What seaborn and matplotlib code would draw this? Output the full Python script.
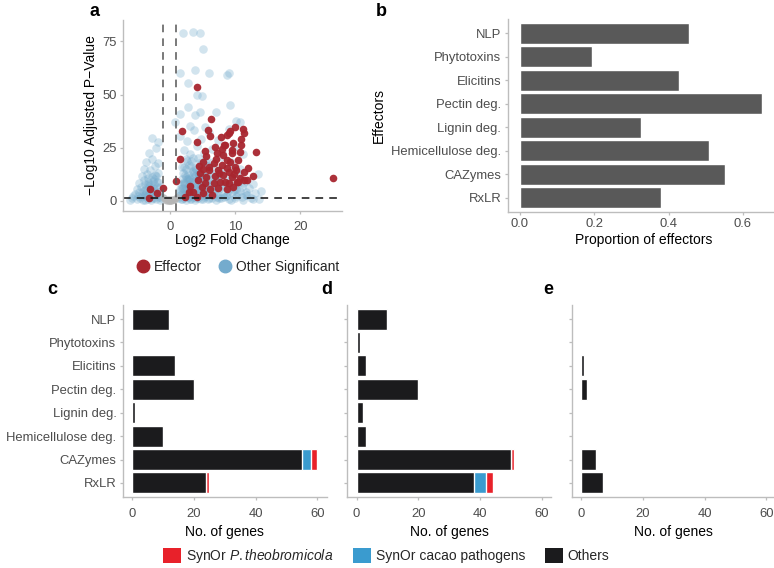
import matplotlib
matplotlib.use("Agg")
import matplotlib.pyplot as plt
import numpy as np
import pandas as pd
import seaborn as sns
from matplotlib.lines import Line2D
from matplotlib.patches import Patch

# ---------------- data ----------------
categories = ["NLP", "Phytotoxins", "Elicitins", "Pectin deg.", "Lignin deg.",
              "Hemicellulose deg.", "CAZymes", "RxLR"]
proportion = [0.456, 0.195, 0.429, 0.651, 0.325, 0.508, 0.553, 0.379]

c_others = [12, 0, 14, 20, 1, 10, 55, 24]
c_cacao = [0, 0, 0, 0, 0, 0, 3, 0]
c_theo = [0, 0, 0, 0, 0, 0, 2, 1]
d_others = [10, 1, 3, 20, 2, 3, 50, 38]
d_cacao = [0, 0, 0, 0, 0, 0, 0, 4]
d_theo = [0, 0, 0, 0, 0, 0, 1, 2]
e_others = [0, 0, 1, 2, 0, 0, 5, 7]
e_cacao = [0, 0, 0, 0, 0, 0, 0, 0]
e_theo = [0, 0, 0, 0, 0, 0, 0, 0]

volcano_xticks = [0, 10, 20]
volcano_yticks = [0, 25, 50, 75]
genes_ticks = [0, 20, 40, 60]
prop_ticks = [0.0, 0.2, 0.4, 0.6]

effector_x = [1.8, 5.9, 4.1, 1.5, 6.15, 7.8, 9.0, 10.0, 10.9, 11.3, 6.9, 8.5, 9.7,
              5.4, 5.6, 7.2, 8.2, 9.5, 5.1, 6.7, 7.95, 9.2, 10.5, 6.05, 7.4, 8.7,
              10.0, 11.3, 4.6, 5.6, 6.9, 8.2, 9.5, 10.8, 4.35, 5.4, 6.7, 7.7, 9.0,
              10.3, 3.1, 4.9, 6.15, 7.4, 8.7, 3.6, 5.1, -3.1, -2.05, -1.1, -3.2,
              2.3, 4.1, 11.2, 9.2, 8.8, 10.9, 8.3, 10.7, 13.2, 9.6, 8.7, 10.15,
              9.0, 12.7, 11.4, 8.5, 10.5, 9.7, 25.0, 4.1, 6.3, 1.0, 7.0, 6.0,
              5.0, 7.6, 8.0, 9.9, 6.4, 4.4, 3.0, 12.0, 11.8]
effector_y = [32.9, 33.3, 27.8, 19.7, 30.5, 30.2, 31.8, 34.9, 29.0, 31.8, 25.5,
              26.3, 27.1, 23.6, 21.1, 22.4, 21.6, 22.4, 18.5, 17.7, 16.9, 18.5,
              19.2, 14.6, 14.6, 15.4, 16.1, 13.8, 13.0, 11.4, 11.7, 12.2, 11.4,
              10.7, 9.9, 8.6, 8.3, 9.1, 8.3, 9.1, 7.0, 6.4, 5.5, 6.0, 5.5, 4.4,
              3.6, 5.5, 3.9, 6.0, 1.3, 2.0, 1.7, 33.7, 33.0, 31.0, 26.3, 26.3,
              23.1, 22.9, 23.9, 19.2, 14.6, 13.8, 11.7, 9.9, 9.1, 9.1, 6.4, 10.9,
              53.4, 38.5, 9.4, 19.8, 16.0, 15.2, 13.0, 24.5, 12.5, 3.0, 16.5,
              4.0, 15.5, 10.0]

other_x = [-5.8, -5.1, -4.6, -4.1, -3.7, -3.3, -2.9, -2.5, -2.1, -1.7, -1.3,
           1.3, 1.7, 2.1, 2.5, 2.9, 3.3, 3.8, 4.3, 4.8, 5.3, 5.9, 6.4, 7.0, 7.6,
           8.3, 9.1, 10.0, 11.2, 12.4,
           -5.4, -4.8, -4.2, -3.7, -3.1, -2.6, -2.1, -1.6,
           1.6, 2.0, 2.4, 2.8, 3.3, 3.7, 4.2, 4.6, 5.1, 5.6, 6.2, 6.8, 7.4, 8.1,
           8.8, 9.6, 10.5, 11.6, 13.0,
           -5.0, -4.4, -3.8, -3.2, -2.6, -2.0,
           1.8, 2.3, 2.8, 3.3, 3.8, 4.4, 5.0, 5.6, 6.2, 6.9, 7.6, 8.4, 9.2, 10.1,
           11.0, 12.1,
           -4.7, -4.0, -3.3, -2.5, -1.8,
           2.1, 2.7, 3.3, 3.9, 4.5, 5.2, 5.9, 6.6, 7.4, 8.3, 9.3, 10.4, 11.6,
           -4.3, -3.5, -2.7, -1.9,
           2.3, 3.0, 3.7, 4.5, 5.3, 6.1, 7.0, 8.0, 9.1, 10.4,
           -4.0, -3.1, -2.3,
           2.4, 3.2, 4.0, 4.9, 5.8, 6.8, 7.9, 9.2, 10.8,
           -3.6, -2.7, -1.9,
           2.6, 3.5, 4.5, 5.5, 6.6, 7.8, 9.3,
           -3.2, -2.2,
           2.1, 3.1, 4.2, 5.3, 6.5, 8.0, 9.8, 11.2,
           -2.8, -1.8,
           1.6, 2.6, 3.7, 4.8, 6.0, 7.3, 9.0, 10.7, 3.1, 5.4,
           2.05, 3.5, 4.6, 5.1, 1.5, 3.8, 6.05, 8.7, 9.1, 9.2, 2.8, 4.2, 4.9,
           2.8, 3.8, 4.6, 7.0, 10.2, 0.8, 1.6,
           -4.9, -3.9, -2.8, -1.5, 1.5, 2.2, 3.0, 3.6, 4.1, 4.7, 5.4, 2.6, 3.4,
           4.0, 1.9, 2.9, 3.5, 4.3, -3.4, -2.3, 12.8, 14.0, 13.5,
           1.4, 1.9, 2.3, 2.7, 3.1, 3.6, 4.0, 4.5, 5.0, 5.5, 6.0, 6.6, 7.2, 7.9,
           1.5, 2.0, 2.6, 3.2, 3.8, 4.4, 5.0, 5.7, 6.4, 7.1,
           1.7, 2.2, 2.9, 3.5, 4.1, 4.8, 5.5, 6.3, 7.0,
           1.9, 2.5, 3.1, 3.8, 4.5, 5.3, 6.1, 7.0,
           2.0, 2.8, 3.6, 4.4, 5.3, 6.3,
           2.2, 3.0, 3.9, 4.8, 5.8,
           2.4, 3.3, 4.3, 5.4,
           -4.5, -3.9, -3.4, -2.8, -2.3, -1.6,
           -4.2, -3.6, -3.0, -2.4, -1.9,
           -3.8, -3.1, -2.5, -2.0,
           -3.3, -2.6, -2.1, -6.2, -5.6,
           8.6, 9.4, 10.2, 11.0, 11.9, 12.8,
           8.9, 9.8, 10.7, 11.6,
           8.2, 9.1, 10.0, 11.2, 13.6]
other_y = [1.2, 0.8, 1.6, 0.6, 1.9, 1.1, 0.7, 1.5, 0.9, 1.8, 1.4,
           1.6, 0.9, 1.3, 0.7, 1.9, 1.1, 0.6, 1.5, 0.9, 1.7, 0.8, 1.4, 0.6, 1.2,
           1.8, 0.9, 1.3, 0.7, 1.5,
           3.1, 4.2, 2.7, 3.8, 2.9, 4.4, 3.4, 2.6,
           3.0, 4.1, 2.8, 3.6, 4.4, 2.7, 3.5, 4.2, 2.9, 3.9, 2.6, 4.3, 3.2, 3.8,
           2.8, 4.0, 3.3, 2.9, 3.7,
           5.6, 6.8, 5.2, 7.1, 5.9, 6.4,
           6.1, 5.3, 7.2, 5.8, 6.6, 5.1, 7.0, 6.0, 5.4, 6.9, 5.7, 7.3, 6.2, 5.5,
           6.8, 5.9,
           8.6, 9.9, 8.2, 10.3, 9.0,
           8.4, 10.1, 8.9, 9.6, 8.1, 10.4, 9.2, 8.5, 10.0, 8.8, 9.7, 8.3, 9.5,
           11.8, 12.9, 11.2, 13.3,
           12.1, 11.0, 13.2, 12.4, 11.5, 13.0, 11.9, 12.6, 11.3, 12.8,
           15.2, 14.4, 16.3,
           14.8, 16.5, 15.1, 14.2, 16.2, 15.4, 14.6, 16.0, 15.0,
           18.3, 19.8, 17.9,
           18.9, 20.4, 17.8, 19.6, 18.4, 20.6, 18.1,
           22.7, 24.9,
           23.8, 21.9, 25.6, 22.6, 24.4, 23.1, 25.2, 22.0,
           29.6, 27.8,
           30.4, 28.3, 33.5, 29.1, 31.7, 28.7, 33.9, 37.2, 35.4, 34.6,
           79.0, 79.5, 79.0, 71.2, 60.0, 61.5, 60.0, 59.2, 60.2, 45.0, 55.3,
           50.0, 49.5, 44.0, 40.3, 42.0, 42.0, 37.5, 37.0, 41.0,
           2.2, 3.0, 5.0, 6.5, 5.5, 7.8, 9.9, 2.0, 5.5, 7.0, 3.0, 10.5, 8.0,
           12.0, 16.0, 6.8, 14.0, 10.8, 9.0, 12.0, 8.0, 4.5, 12.5,
           2.3, 1.1, 3.5, 2.0, 0.8, 2.6, 1.4, 3.1, 0.9, 2.4, 1.6, 3.0, 2.1, 1.3,
           4.8, 6.0, 5.1, 6.4, 4.7, 5.9, 4.6, 6.3, 5.0, 6.1,
           7.9, 8.8, 7.6, 9.3, 8.2, 7.5, 9.0, 7.8, 8.6,
           10.4, 11.3, 10.1, 11.8, 10.6, 11.6, 10.2, 11.1,
           13.3, 12.5, 13.8, 12.9, 13.6, 12.2,
           15.8, 16.9, 15.5, 17.2, 16.4,
           19.5, 18.7, 20.2, 19.0,
           2.4, 0.5, 2.6, 1.3, 2.9, 0.6,
           4.7, 6.1, 4.9, 5.6, 4.4,
           8.0, 7.4, 7.9, 8.9,
           10.8, 9.6, 11.9, 0.4, 2.2,
           2.2, 0.5, 2.4, 1.9, 2.6, 1.0,
           4.9, 5.3, 4.6, 4.4,
           7.2, 7.7, 7.0, 8.5, 0.9]

ns_x = [-0.9, -0.6, -0.3, 0.0, 0.3, 0.6, 0.9, -0.7, -0.4, -0.1, 0.2, 0.5, 0.8,
        -0.5, 0.1, 0.4, -1.1, 1.1, -0.2, 0.0]
ns_y = [1.2, 0.6, 0.3, 0.1, 0.3, 0.7, 1.3, 0.4, 0.2, 0.05, 0.15, 0.4, 0.9,
        1.0, 0.6, 1.1, 1.8, 1.7, 0.5, 0.8]

# ---------------- style ----------------
sns.set_theme(style="white")
plt.rcParams['font.family'] = ['Liberation Sans', 'DejaVu Sans']
plt.rcParams['mathtext.fontset'] = 'custom'
plt.rcParams['mathtext.rm'] = 'Liberation Sans'
plt.rcParams['mathtext.it'] = 'Liberation Sans:italic'

SPINE = "#bdbdbd"
TICKC = "#4d4d4d"
RED = "#e8212a"
BLUE = "#3a9bcf"
BLACK = "#1b1b1d"
GREY_BAR = "#595959"
EFF = "#a8262f"
OTH = "#74abcd"
TICK_FS = 9.4
LAB_FS = 10

W, H = 774, 568
fig = plt.figure(figsize=(W / 100, H / 100), dpi=100)


def px_axes(left, top, right, bottom):
    return fig.add_axes([left / W, 1 - bottom / H, (right - left) / W, (bottom - top) / H])


def style(ax, xpad=2):
    for s in ["top", "right"]:
        ax.spines[s].set_visible(False)
    for s in ["left", "bottom"]:
        ax.spines[s].set_color(SPINE)
        ax.spines[s].set_linewidth(1.0)
    ax.tick_params(axis="both", which="both", length=2.5, width=0.9, color=SPINE,
                   labelcolor=TICKC, labelsize=TICK_FS, pad=2, direction="out",
                   left=True, bottom=True)
    ax.tick_params(axis="x", pad=xpad)
    ax.grid(False)


# ---------------- panel a ----------------
axa = px_axes(123, 20, 342, 211)
dfo = pd.DataFrame({"x": other_x, "y": other_y})
dfn = pd.DataFrame({"x": ns_x, "y": ns_y})
dfe = pd.DataFrame({"x": effector_x, "y": effector_y})
sns.scatterplot(data=dfo, x="x", y="y", ax=axa, color=OTH, alpha=0.32, s=38,
                linewidth=0, legend=False)
sns.scatterplot(data=dfn, x="x", y="y", ax=axa, color="#b5b5b5", alpha=0.5, s=26,
                linewidth=0, legend=False)
sns.scatterplot(data=dfe, x="x", y="y", ax=axa, color=EFF, alpha=0.95, s=30,
                linewidth=0, legend=False)
axa.axvline(-1, color="#555555", lw=1.1, ls=(0, (5, 4)))
axa.axvline(1, color="#555555", lw=1.1, ls=(0, (5, 4)))
axa.axhline(1.3, color="#111111", lw=1.1, ls=(0, (5, 4)))
axa.set_xlim(-7.2, 26.4)
axa.set_ylim(-4.7, 85)
axa.set_xticks(volcano_xticks)
axa.set_yticks(volcano_yticks)
style(axa, xpad=4.5)
axa.set_xlabel("Log2 Fold Change", fontsize=LAB_FS, color="black", labelpad=0.5)
axa.set_ylabel("\u2212Log10 Adjusted P\u2212Value", fontsize=LAB_FS, color="black", labelpad=3)

leg_a = [Line2D([], [], marker="o", ls="", color=EFF, markersize=9, label="Effector"),
         Line2D([], [], marker="o", ls="", color=OTH, markersize=9, label="Other Significant")]
fig.legend(handles=leg_a, loc="center", bbox_to_anchor=(0.307, 1 - 267 / H), ncol=2,
           frameon=False, fontsize=LAB_FS, handletextpad=0.25, columnspacing=1.2,
           handlelength=1.0, borderpad=0)

# ---------------- panel b ----------------
axb = px_axes(507.5, 19, 780, 212)
dfb = pd.DataFrame({"cat": categories, "val": proportion})
sns.barplot(data=dfb, x="val", y="cat", order=categories, ax=axb, color=GREY_BAR,
            saturation=1, width=0.9, orient="h")
axb.set_xlim(-0.0334, 0.7)
axb.set_ylim(7.6, -0.6)
axb.set_xticks(prop_ticks)
axb.set_xticklabels(["0.0", "0.2", "0.4", "0.6"])
style(axb)
axb.set_xlabel("Proportion of effectors", fontsize=LAB_FS, color="black", labelpad=2)
axb.set_ylabel("Effectors", fontsize=LAB_FS, color="black", labelpad=4)


# ---------------- panels c, d, e ----------------
def stacked(ax, others, cacao, theo, show_labels):
    tot_oc = [o + c for o, c in zip(others, cacao)]
    tot = [t + th for t, th in zip(tot_oc, theo)]
    for vals, col in [(tot, RED), (tot_oc, BLUE), (others, BLACK)]:
        d = pd.DataFrame({"cat": categories, "val": vals})
        sns.barplot(data=d, x="val", y="cat", order=categories, ax=ax, color=col,
                    saturation=1, width=0.9, orient="h")
    ax.set_xlim(-3, 63)
    ax.set_ylim(7.6, -0.6)
    ax.set_xticks(genes_ticks)
    style(ax, xpad=5.5)
    ax.set_xlabel("No. of genes", fontsize=LAB_FS, color="black", labelpad=3.5)
    ax.set_ylabel("")
    if not show_labels:
        ax.set_yticklabels([])


axc = px_axes(122.7, 305, 326.7, 497)
stacked(axc, c_others, c_cacao, c_theo, True)
axd = px_axes(347.3, 305, 551.3, 497)
stacked(axd, d_others, d_cacao, d_theo, False)
axe = px_axes(571.7, 305, 775.7, 497)
stacked(axe, e_others, e_cacao, e_theo, False)

leg_b = [Patch(facecolor=RED, edgecolor="none", label="SynOr $\\mathit{P.theobromicola}$"),
         Patch(facecolor=BLUE, edgecolor="none", label="SynOr cacao pathogens"),
         Patch(facecolor=BLACK, edgecolor="none", label="Others")]
fig.legend(handles=leg_b, loc="center", bbox_to_anchor=(0.499, 1 - 556 / H), ncol=3,
           frameon=False, fontsize=LAB_FS, handletextpad=0.35, columnspacing=1.4,
           handlelength=1.3, handleheight=1.3, borderpad=0)

# ---------------- panel letters ----------------
for lab, x, y in [("a", 95, 12), ("b", 381, 12), ("c", 52, 290), ("d", 327, 290), ("e", 548, 290)]:
    fig.text(x / W, 1 - y / H, lab, fontsize=13, fontweight="bold", ha="center",
             va="center", color="black")

fig.savefig("out.png", dpi=100)
